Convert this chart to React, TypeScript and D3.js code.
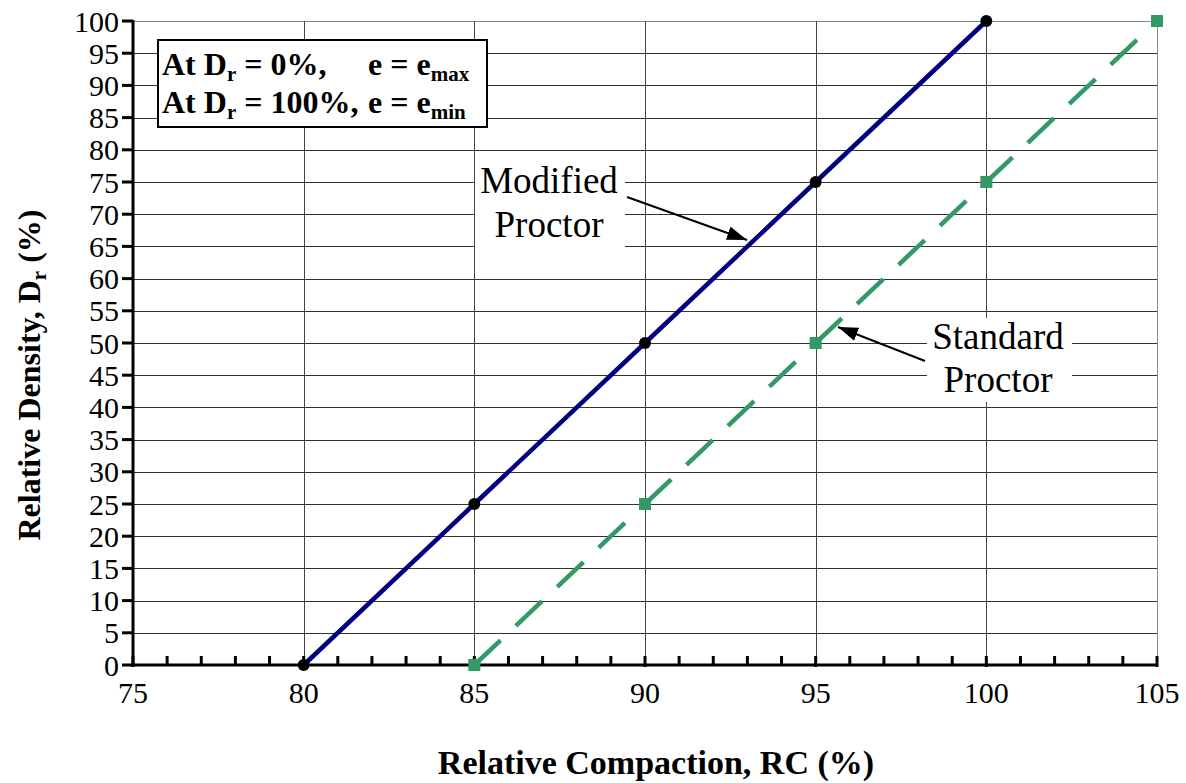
import React from "react";
import * as d3 from "d3";

const modifiedRC = [80, 85, 90, 95, 100];
const modifiedDr = [0, 25, 50, 75, 100];
const standardRC = [85, 90, 95, 100, 105];
const standardDr = [0, 25, 50, 75, 100];
const xTicks = [75, 80, 85, 90, 95, 100, 105];
const yTicks = d3.range(0, 101, 5);
const xMinorTicks = d3.range(75, 106, 1);

const W = 1186;
const H = 783;
const serif = "'Liberation Serif', 'Times New Roman', serif";

export default function App() {
  const x = d3.scaleLinear().domain([75, 105]).range([133, 1157]);
  const y = d3.scaleLinear().domain([0, 100]).range([665, 21]);

  const modPts = modifiedRC.map((r, i) => [x(r), y(modifiedDr[i])] as [number, number]);
  const stdPts = standardRC.map((r, i) => [x(r), y(standardDr[i])] as [number, number]);
  const line = d3.line();

  const stdSegs = stdPts.slice(1).map((p, i) => line([stdPts[i], p]) as string);

  return (
    <svg
      width={W}
      height={H}
      style={{ position: "absolute", left: 0, top: 0, background: "#fff" }}
      fontFamily={serif}
    >
      <defs>
        <marker id="ah" viewBox="0 0 20 14" refX="20" refY="7" markerWidth="20" markerHeight="14" markerUnits="userSpaceOnUse" orient="auto">
          <path d="M0,0 L20,7 L0,14 Z" fill="#000" />
        </marker>
      </defs>
      <rect width={W} height={H} fill="#fff" />
      {/* gridlines */}
      {yTicks.filter((t) => t > 0).map((t) => (
        <line key={"gy" + t} x1={x(75)} x2={x(105)} y1={Math.round(y(t)) + 0.5} y2={Math.round(y(t)) + 0.5} stroke={t === 100 ? "#888" : "#333"} strokeWidth={1} />
      ))}
      {xTicks.filter((t) => t > 75).map((t) => (
        <line key={"gx" + t} x1={Math.round(x(t)) + 0.5} x2={Math.round(x(t)) + 0.5} y1={y(100)} y2={y(0)} stroke={t === 105 ? "#888" : "#444"} strokeWidth={1} />
      ))}

      {/* series */}
      <path d={line(modPts) as string} fill="none" stroke="#000080" strokeWidth={4.5} />
      {stdSegs.map((d, i) => (
        <path key={"s" + i} d={d} fill="none" stroke="#339966" strokeWidth={4.5} strokeDasharray="36 21" />
      ))}

      {/* axes */}
      <line x1={x(75)} x2={x(75)} y1={y(100) - 1} y2={y(0) + 1.5} stroke="#000" strokeWidth={3} />
      <line x1={x(75) - 1.5} x2={x(105) + 1} y1={y(0)} y2={y(0)} stroke="#000" strokeWidth={3} />
      {yTicks.map((t) => (
        <line key={"yt" + t} x1={x(75) - 11} x2={x(75)} y1={y(t)} y2={y(t)} stroke="#000" strokeWidth={3} />
      ))}
      {xMinorTicks.map((t) => (
        <line key={"xt" + t} x1={x(t)} x2={x(t)} y1={y(0) - 9} y2={y(0) + (t % 5 === 0 ? 2 : 0)} stroke="#000" strokeWidth={3} />
      ))}

      {/* markers */}
      {modPts.map((p, i) => (
        <circle key={"m" + i} cx={p[0]} cy={p[1]} r={6} fill="#000" />
      ))}
      {stdPts.map((p, i) => (
        <rect key={"q" + i} x={p[0] - 6} y={p[1] - 6} width={12} height={12} fill="#339966" />
      ))}

      {/* tick labels */}
      {yTicks.map((t) => (
        <text key={"yl" + t} x={119} y={y(t) + 10.5} fontSize={30} textAnchor="end" fill="#000">{t}</text>
      ))}
      {xTicks.map((t) => (
        <text key={"xl" + t} x={x(t)} y={703} fontSize={30} textAnchor="middle" fill="#000">{t}</text>
      ))}

      {/* axis titles */}
      <text x={656} y={774} fontSize={34} fontWeight="bold" textAnchor="middle" fill="#000">Relative Compaction, RC (%)</text>
      <text transform="translate(40,375) rotate(-90)" fontSize={32} fontWeight="bold" textAnchor="middle" fill="#000">
        Relative Density, D<tspan fontSize={21} dy={6}>r</tspan><tspan dy={-6}> (%)</tspan>
      </text>

      {/* info box */}
      <rect x={158} y={40} width={329} height={87} fill="#fff" stroke="#000" strokeWidth={2} />
      <text x={162} y={75} fontSize={32} fontWeight="bold" fill="#000">
        At D<tspan fontSize={21} dy={6}>r</tspan><tspan dy={-6}> = 0%,</tspan>
      </text>
      <text x={368} y={75} fontSize={32} fontWeight="bold" fill="#000">
        e = e<tspan fontSize={21} dy={6}>max</tspan>
      </text>
      <text x={162} y={113} fontSize={32} fontWeight="bold" fill="#000">
        At D<tspan fontSize={21} dy={6}>r</tspan><tspan dy={-6}> = 100%,</tspan>
      </text>
      <text x={368} y={113} fontSize={32} fontWeight="bold" fill="#000">
        e = e<tspan fontSize={21} dy={6}>min</tspan>
      </text>

      {/* annotations */}
      <rect x={475} y={160} width={150} height={90} fill="#fff" />
      <text x={549} y={193} fontSize={37} textAnchor="middle" fill="#000">Modified</text>
      <text x={549} y={237} fontSize={37} textAnchor="middle" fill="#000">Proctor</text>
      <line x1={627} y1={197} x2={747} y2={240} stroke="#000" strokeWidth={2} markerEnd="url(#ah)" />

      <rect x={927} y={318} width={145} height={84} fill="#fff" />
      <text x={998} y={349} fontSize={37} textAnchor="middle" fill="#000">Standard</text>
      <text x={998} y={392} fontSize={37} textAnchor="middle" fill="#000">Proctor</text>
      <line x1={925} y1={361} x2={838} y2={327} stroke="#000" strokeWidth={2} markerEnd="url(#ah)" />
    </svg>
  );
}
